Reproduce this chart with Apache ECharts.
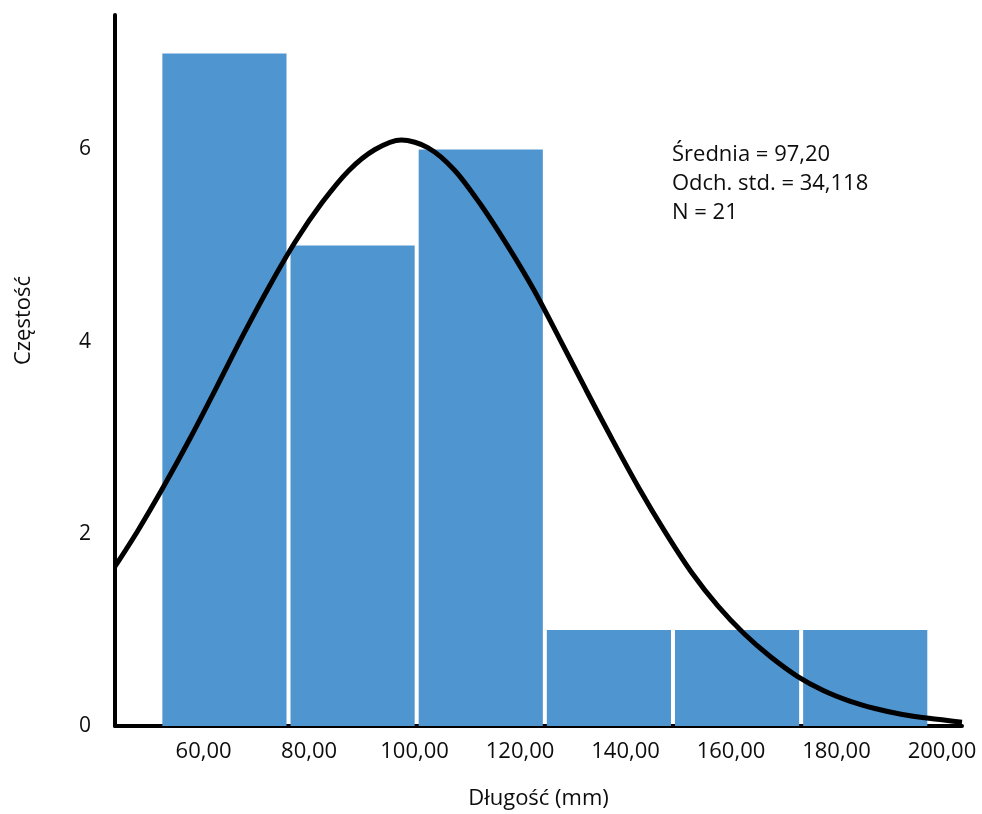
<!DOCTYPE html>
<html>
<head>
<meta charset="utf-8">
<title>Histogram - Długość</title>
<script src="https://cdn.jsdelivr.net/npm/echarts@6/dist/echarts.min.js"></script>
<style>
  html, body { margin: 0; padding: 0; background: #fff; }
  #main { width: 982px; height: 814px; }
</style>
</head>
<body>
<div id="main"></div>
<script>
  // histogram bins (mm) and counts
  var binEdges = [51.8, 76.1, 100.4, 124.7, 149.0, 173.3, 197.6]
  var counts = [7, 5, 6, 1, 1, 1]

  // fitted normal curve
  var curveX = [43.2, 47.5, 52.5, 57.5, 62.5, 67.5, 72.5, 77.5, 82.5, 87.5, 92.5, 97.5, 102.5, 107.5, 112.5, 117.5, 122.5, 127.5, 132.5, 137.5, 142.5, 147.5, 152.5, 157.5, 162.5, 167.5, 172.5, 177.5, 182.5, 187.5, 192.5, 197.5, 203.8]
  var curveY = [1.66, 2.03, 2.50, 3.00, 3.53, 4.07, 4.58, 5.05, 5.45, 5.78, 6.00, 6.10, 6.02, 5.79, 5.43, 5.01, 4.55, 4.03, 3.50, 2.98, 2.48, 2.02, 1.60, 1.25, 0.96, 0.72, 0.52, 0.37, 0.26, 0.18, 0.12, 0.08, 0.04]

  var xTicks = [60, 80, 100, 120, 140, 160, 180, 200]
  var yTicks = [0, 2, 4, 6]

  var statsLines = ['Średnia = 97,20', 'Odch. std. = 34,118', 'N = 21']

  var font = 'Open Sans'
  var ink = '#0d0d0d'

  var bins = []
  for (var i = 0; i < counts.length; i++) {
    bins.push([binEdges[i], binEdges[i + 1], counts[i]])
  }
  var curve = curveX.map(function (x, i) { return [x, curveY[i]] })

  var chart = echarts.init(document.getElementById('main'))
  chart.setOption({
    backgroundColor: '#fff',
    animation: false,
    grid: { left: 115, right: 20, top: 15, bottom: 88, outerBoundsMode: 'none', containLabel: false },
    xAxis: {
      type: 'value',
      min: 43.2,
      max: 203.8,
      name: 'Długość (mm)',
      nameLocation: 'middle',
      nameGap: 62,
      nameTextStyle: { fontFamily: font, fontSize: 22, color: ink },
      axisLine: { show: true, onZero: false, lineStyle: { color: '#000', width: 4 } },
      axisTick: { show: false },
      splitLine: { show: false },
      axisLabel: {
        customValues: xTicks,
        margin: 15,
        fontFamily: font,
        fontSize: 22,
        color: ink,
        formatter: function (v) { return v.toFixed(2).replace('.', ',') }
      }
    },
    yAxis: {
      type: 'value',
      min: 0,
      max: 7.4,
      name: 'Częstość',
      nameLocation: 'middle',
      nameGap: 80,
      nameTextStyle: { fontFamily: font, fontSize: 22, color: ink, padding: [0, 0, 0, 100] },
      axisLine: { show: true, lineStyle: { color: '#000', width: 4 } },
      axisTick: { show: false },
      splitLine: { show: false },
      axisLabel: {
        customValues: yTicks,
        margin: 24,
        fontFamily: font,
        fontSize: 21,
        color: ink
      }
    },
    graphic: [{
      type: 'text',
      left: 672,
      top: 140,
      style: {
        text: statsLines.join('\n'),
        fontFamily: font,
        fontSize: 22,
        lineHeight: 29,
        fill: ink
      }
    }],
    series: [
      {
        type: 'custom',
        data: bins,
        z: 2,
        renderItem: function (params, api) {
          var p0 = api.coord([api.value(0), api.value(2)])
          var p1 = api.coord([api.value(1), 0])
          return {
            type: 'rect',
            shape: { x: p0[0] + 2, y: p0[1], width: p1[0] - p0[0] - 4, height: p1[1] - p0[1] },
            style: { fill: '#4f95d0' }
          }
        }
      },
      {
        type: 'line',
        data: curve,
        smooth: 0.3,
        symbol: 'none',
        z: 5,
        lineStyle: { color: '#000', width: 5 }
      }
    ]
  })
</script>
</body>
</html>
